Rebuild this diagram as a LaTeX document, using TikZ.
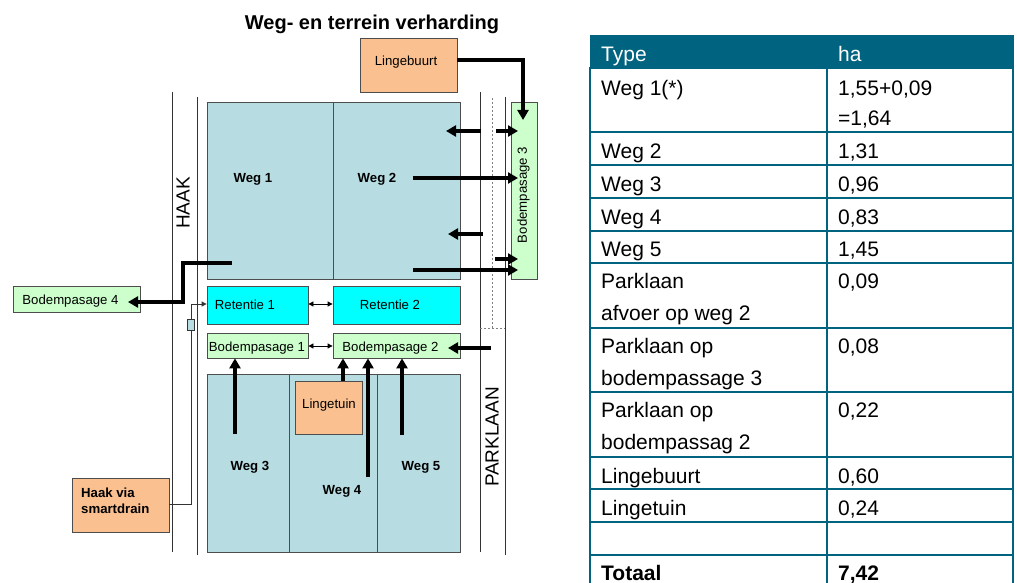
\documentclass[tikz,border=0pt]{standalone}
\usepackage{fontspec}
\setmainfont{Liberation Sans}
\usetikzlibrary{arrows.meta}
\definecolor{wegfill}{HTML}{B7DDE3}
\definecolor{peach}{HTML}{FAC090}
\definecolor{lgreen}{HTML}{CCFFCC}
\definecolor{cyanfill}{HTML}{00FFFF}
\definecolor{tealc}{HTML}{00637F}
\definecolor{edgec}{HTML}{4D4D4D}
\definecolor{roadc}{HTML}{333333}
\begin{document}
\begin{tikzpicture}[x=1pt,y=-1pt,
  area/.style={draw=edgec,line width=0.8pt,inner sep=0pt},
  weg/.style={area,fill=wegfill},
  orange/.style={area,fill=peach},
  green/.style={area,fill=lgreen},
  ret/.style={area,fill=cyanfill},
  lab/.style={font=\fontsize{13.2}{15}\selectfont,anchor=base,inner sep=0pt},
  blab/.style={lab,font=\fontsize{13.2}{15}\selectfont\bfseries},
  roadlab/.style={font=\fontsize{19}{22}\selectfont,inner sep=0pt,rotate=90},
  road/.style={draw=roadc,line width=0.8pt},
  flow/.style={line width=3.2pt,-{Triangle[length=10pt,width=11pt]}},
  thinflow/.style={draw=roadc,line width=0.8pt,-{Triangle[length=5pt,width=5pt]}},
  twoway/.style={line width=0.8pt,{Triangle[length=5pt,width=5pt]}-{Triangle[length=5pt,width=5pt]}},
  tline/.style={draw=tealc,line width=2pt},
  tcell/.style={font=\fontsize{21}{25}\selectfont,anchor=base west,inner sep=0pt},
  thead/.style={tcell,text=white},
  tbold/.style={tcell,font=\fontsize{21}{25}\selectfont\bfseries}]
\useasboundingbox (0,0) rectangle (1017,583);

% title
\node[font=\fontsize{20}{23}\selectfont\bfseries,anchor=base,inner sep=0pt] (title) at (372,30) {Weg- en terrein verharding};

% roads
\draw[road] (172,92) -- (172,552);
\draw[road] (197,97) -- (197,555);
\draw[road] (480,92) -- (480,552);
\draw[road] (505,97) -- (505,555);
\draw[draw=gray,line width=0.8pt,dash pattern=on 2pt off 2pt] (492,98) -- (492,328) -- (480,328);
\draw[draw=gray,line width=0.8pt,dash pattern=on 2pt off 2pt] (492,328) -- (505,328);
\node[roadlab] (haak) at (183,203) {HAAK};
\node[roadlab] (parklaan) at (492,437) {PARKLAAN};

% areas
\node[weg,minimum width=126pt,minimum height=177pt] (weg1) at (270,190.5) {};
\node[weg,minimum width=127pt,minimum height=177pt] (weg2) at (396.5,190.5) {};
\node[weg,minimum width=82pt,minimum height=178pt] (weg3) at (248,463) {};
\node[weg,minimum width=88pt,minimum height=178pt] (weg4) at (333,463) {};
\node[weg,minimum width=83pt,minimum height=178pt] (weg5) at (418.5,463) {};
\node[blab] (weg1t) at (253,182) {Weg 1};
\node[blab] (weg2t) at (377,182) {Weg 2};
\node[blab] (weg3t) at (250,470) {Weg 3};
\node[blab] (weg4t) at (342,494) {Weg 4};
\node[blab] (weg5t) at (421,470) {Weg 5};

\node[orange,minimum width=97pt,minimum height=54pt] (lingebuurt) at (408.5,65) {};
\node[lab] (lingebuurtt) at (406,66) {Lingebuurt};
\node[orange,minimum width=67pt,minimum height=53pt] (lingetuin) at (328.5,407.5) {};
\node[lab] (lingetuint) at (329,408) {Lingetuin};

\node[ret,minimum width=101pt,minimum height=38pt] (ret1) at (257.5,305) {};
\node[ret,minimum width=127pt,minimum height=38pt] (ret2) at (396.5,305) {};
\node[lab] (ret1t) at (245,309) {Retentie 1};
\node[lab] (ret2t) at (390,309) {Retentie 2};

\node[green,minimum width=101pt,minimum height=25pt] (bp1) at (257.5,345.5) {};
\node[green,minimum width=127pt,minimum height=25pt] (bp2) at (396.5,345.5) {};
\node[lab] (bp1t) at (257,351) {Bodempasage 1};
\node[lab] (bp2t) at (390.5,351) {Bodempasage 2};
\node[green,minimum width=26pt,minimum height=177pt] (bp3) at (524,190.5) {};
\node[font=\fontsize{13.2}{15}\selectfont,inner sep=0pt,rotate=90] (bp3t) at (523.5,195) {Bodempasage 3};
\node[green,minimum width=127pt,minimum height=26pt] (bp4) at (76.5,299) {};
\node[lab] (bp4t) at (70.5,304) {Bodempasage 4};

\node[orange,minimum width=97pt,minimum height=54pt] (haakbox) at (120.5,505) {};
\node[font=\fontsize{13.2}{16}\selectfont\bfseries,anchor=base west,inner sep=0pt] (haakt1) at (81,497) {Haak via};
\node[font=\fontsize{13.2}{16}\selectfont\bfseries,anchor=base west,inner sep=0pt] (haakt2) at (81,513) {smartdrain};

% smartdrain line
\coordinate (sdA) at (191,504);
\draw[thinflow] (haakbox.east |- sdA) -- (sdA) -- (191,304) -- (ret1.west |- 0,304);
\node[draw=roadc,fill=wegfill,line width=0.6pt,minimum width=7pt,minimum height=11pt,inner sep=0pt] (drain) at (190.5,324.5) {};

% two-way links
\draw[twoway] (ret1.east |- 0,304) -- (ret2.west |- 0,304);
\draw[twoway] (bp1.east |- 0,346) -- (bp2.west |- 0,346);

% flows
\coordinate (lbA) at (457,60);
\coordinate (lbTip) at (523,120);
\draw[flow] (lbA) -| (lbTip);

\coordinate (w1A) at (232,263);
\coordinate (w1Tip) at (128,302);
\draw[flow] (w1A) -- (183,263) -- (183,302) -- (w1Tip);

\coordinate (a1s) at (481,131); \coordinate (a1t) at (446,131);
\draw[flow] (a1s) -- (a1t);
\coordinate (a2s) at (496,131); \coordinate (a2t) at (518,131);
\draw[flow] (a2s) -- (a2t);
\coordinate (a3s) at (413,178); \coordinate (a3t) at (518,178);
\draw[flow] (a3s) -- (a3t);
\coordinate (a4s) at (483,234); \coordinate (a4t) at (448,234);
\draw[flow] (a4s) -- (a4t);
\coordinate (a5s) at (495,259); \coordinate (a5t) at (518,259);
\draw[flow] (a5s) -- (a5t);
\coordinate (a6s) at (413,270); \coordinate (a6t) at (518,270);
\draw[flow] (a6s) -- (a6t);

\coordinate (pkA) at (491,348); \coordinate (pkTip) at (448,348);
\draw[flow] (pkA) -- (pkTip);

\coordinate (w3A) at (235,434);
\draw[flow] (w3A) -- (bp1.south -| w3A);
\draw[flow] (lingetuin.north -| 343,0) -- (bp2.south -| 343,0);
\coordinate (w4A) at (368,477);
\draw[flow] (w4A) -- (bp2.south -| w4A);
\coordinate (w5A) at (402,435);
\draw[flow] (w5A) -- (bp2.south -| w5A);

% table
\fill[tealc] (590,35) rectangle (1014,68);
\foreach \yy in {68,132,165,198,231,263,328,392,457,489,522,555}
  \draw[tline] (590,\yy) -- (1013,\yy);
\draw[tline] (590,67) -- (590,584);
\draw[tline] (827,67) -- (827,584);
\draw[tline] (1013,67) -- (1013,584);

\node[thead] (h1) at (601,62) {Type};
\node[thead] (h2) at (838,62) {ha};
\node[tcell] (r1a) at (601,96) {Weg 1(*)};
\node[tcell] (r1b) at (838,96) {1,55+0,09};
\node[tcell] (r1c) at (838,126) {=1,64};
\node[tcell] (r2a) at (601,158) {Weg 2};
\node[tcell] (r2b) at (838,158) {1,31};
\node[tcell] (r3a) at (601,191) {Weg 3};
\node[tcell] (r3b) at (838,191) {0,96};
\node[tcell] (r4a) at (601,224) {Weg 4};
\node[tcell] (r4b) at (838,224) {0,83};
\node[tcell] (r5a) at (601,256) {Weg 5};
\node[tcell] (r5b) at (838,256) {1,45};
\node[tcell] (r6a) at (601,288) {Parklaan};
\node[tcell] (r6c) at (601,320) {afvoer op weg 2};
\node[tcell] (r6b) at (838,288) {0,09};
\node[tcell] (r7a) at (601,353) {Parklaan op};
\node[tcell] (r7c) at (601,385) {bodempassage 3};
\node[tcell] (r7b) at (838,353) {0,08};
\node[tcell] (r8a) at (601,417) {Parklaan op};
\node[tcell] (r8c) at (601,449) {bodempassag 2};
\node[tcell] (r8b) at (838,417) {0,22};
\node[tcell] (r9a) at (601,483) {Lingebuurt};
\node[tcell] (r9b) at (838,483) {0,60};
\node[tcell] (r10a) at (601,515) {Lingetuin};
\node[tcell] (r10b) at (838,515) {0,24};
\node[tbold,text depth=0pt] (r12a) at (601,580) {Totaal};
\node[tbold,text depth=0pt] (r12b) at (838,580) {7,42};
\end{tikzpicture}
\end{document}
